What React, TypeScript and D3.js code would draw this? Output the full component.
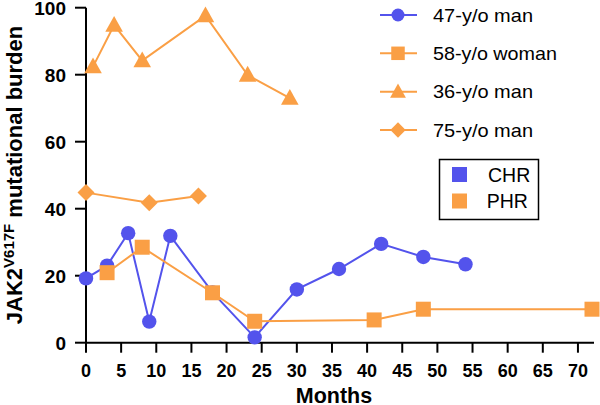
import React from "react";
import * as d3 from "d3";

const blueMonths = [0, 3, 6, 9, 12, 18, 24, 30, 36, 42, 48, 54];
const blueValues = [19.2, 23.0, 32.7, 6.3, 31.9, 15.0, 1.6, 15.9, 22.0, 29.5, 25.6, 23.4];
const womanMonths = [3, 8, 18, 24, 41, 48, 72];
const womanValues = [20.9, 28.5, 14.9, 6.4, 6.8, 10.0, 10.0];
const triMonths = [1, 4, 8, 17, 23, 29];
const triValues = [82.4, 94.8, 84.2, 97.6, 79.9, 73.0];
const diaMonths = [0, 9, 16];
const diaValues = [44.8, 41.8, 43.8];
const xTicks = [0, 5, 10, 15, 20, 25, 30, 35, 40, 45, 50, 55, 60, 65, 70];
const yTicks = [0, 20, 40, 60, 80, 100];
const seriesNames = ["47-y/o man", "58-y/o woman", "36-y/o man", "75-y/o man"];
const responseNames = ["CHR", "PHR"];

const BLUE = "#5353ec";
const ORANGE = "#fa9f45";
const FONT = "'Liberation Sans', Arial, Helvetica, sans-serif";

type Shape = "circle" | "square" | "triangle" | "diamond";

function Marker({ shape, x, y, color, s = 1 }: { shape: Shape; x: number; y: number; color: string; s?: number }) {
  if (shape === "circle") return <circle cx={x} cy={y} r={7.2 * s} fill={color} />;
  if (shape === "square") {
    const h = 7.5 * s;
    return <rect x={x - h} y={y - h} width={2 * h} height={2 * h} fill={color} />;
  }
  if (shape === "triangle") {
    const h = 8.8 * s;
    return <path d={`M${x},${y - h * 1.05}L${x + h},${y + h * 0.75}L${x - h},${y + h * 0.75}Z`} fill={color} />;
  }
  const h = 8.5 * s;
  return <path d={`M${x},${y - h}L${x + h},${y}L${x},${y + h}L${x - h},${y}Z`} fill={color} />;
}

export default function App() {
  const x = d3.scaleLinear().domain([0, 72]).range([86, 592]);
  const y = d3.scaleLinear().domain([0, 100]).range([342.7, 7.7]);
  const line = d3
    .line<[number, number]>()
    .x((d) => x(d[0]))
    .y((d) => y(d[1]));

  const series: { m: number[]; v: number[]; shape: Shape; color: string }[] = [
    { m: blueMonths, v: blueValues, shape: "circle", color: BLUE },
    { m: womanMonths, v: womanValues, shape: "square", color: ORANGE },
    { m: triMonths, v: triValues, shape: "triangle", color: ORANGE },
    { m: diaMonths, v: diaValues, shape: "diamond", color: ORANGE },
  ];

  const legendY = [15, 53.3, 91.7, 130];
  const legendLen = [100, 124, 100, 100];

  return (
    <svg
      width={600}
      height={405}
      style={{ position: "absolute", left: 0, top: 0, background: "#fff" }}
      fontFamily={FONT}
    >
      {/* axes */}
      <line x1={86} x2={86} y1={y(100)} y2={y(0)} stroke="#000" strokeWidth={2} />
      <line x1={85} x2={594} y1={y(0)} y2={y(0)} stroke="#000" strokeWidth={2} />
      {yTicks.map((t) => (
        <g key={"y" + t}>
          <line x1={75} x2={86} y1={y(t)} y2={y(t)} stroke="#000" strokeWidth={2} />
          <text x={66} y={y(t) + 7} textAnchor="end" fontSize={19} fontWeight="bold">
            {t}
          </text>
        </g>
      ))}
      {xTicks.map((t) => (
        <g key={"x" + t}>
          <line x1={x(t)} x2={x(t)} y1={y(0)} y2={y(0) + 10} stroke="#000" strokeWidth={2} />
          <text x={x(t)} y={377} textAnchor="middle" fontSize={18} fontWeight="bold">
            {t}
          </text>
        </g>
      ))}
      <text x={334} y={403} textAnchor="middle" fontSize={21.5} fontWeight="bold">
        Months
      </text>
      <text
        transform={`translate(22,175) rotate(-90)`}
        textAnchor="middle"
        fontSize={22}
        fontWeight="bold"
      >
        JAK2
        <tspan fontSize={15} dy={-8}>
          V617F
        </tspan>
        <tspan dy={8}>{"  mutational burden"}</tspan>
      </text>

      {/* series */}
      {series.map((s, i) => (
        <g key={"s" + i}>
          <path
            d={line(s.m.map((m, j) => [m, s.v[j]] as [number, number])) || ""}
            fill="none"
            stroke={s.color}
            strokeWidth={2}
          />
          {s.m.map((m, j) => (
            <Marker key={j} shape={s.shape} x={x(m)} y={y(s.v[j])} color={s.color} />
          ))}
        </g>
      ))}

      {/* legend */}
      {seriesNames.map((n, i) => (
        <g key={"l" + i}>
          <line x1={380} x2={417} y1={legendY[i]} y2={legendY[i]} stroke={series[i].color} strokeWidth={2} />
          <Marker shape={series[i].shape} x={398} y={legendY[i]} color={series[i].color} s={0.9} />
          <text
            x={433}
            y={legendY[i] + 6.7}
            fontSize={19}
            textLength={legendLen[i]}
            lengthAdjust="spacingAndGlyphs"
          >
            {n}
          </text>
        </g>
      ))}
      <rect x={439.5} y={159.5} width={99} height={60} fill="none" stroke="#000" strokeWidth={1.5} />
      {responseNames.map((n, i) => (
        <g key={"r" + i}>
          <rect x={452} y={167 + i * 26.5} width={15} height={15} fill={i === 0 ? BLUE : ORANGE} />
          <text x={i === 0 ? 488 : 486.7} y={181.5 + i * 26.5} fontSize={19.5}>
            {n}
          </text>
        </g>
      ))}
    </svg>
  );
}
